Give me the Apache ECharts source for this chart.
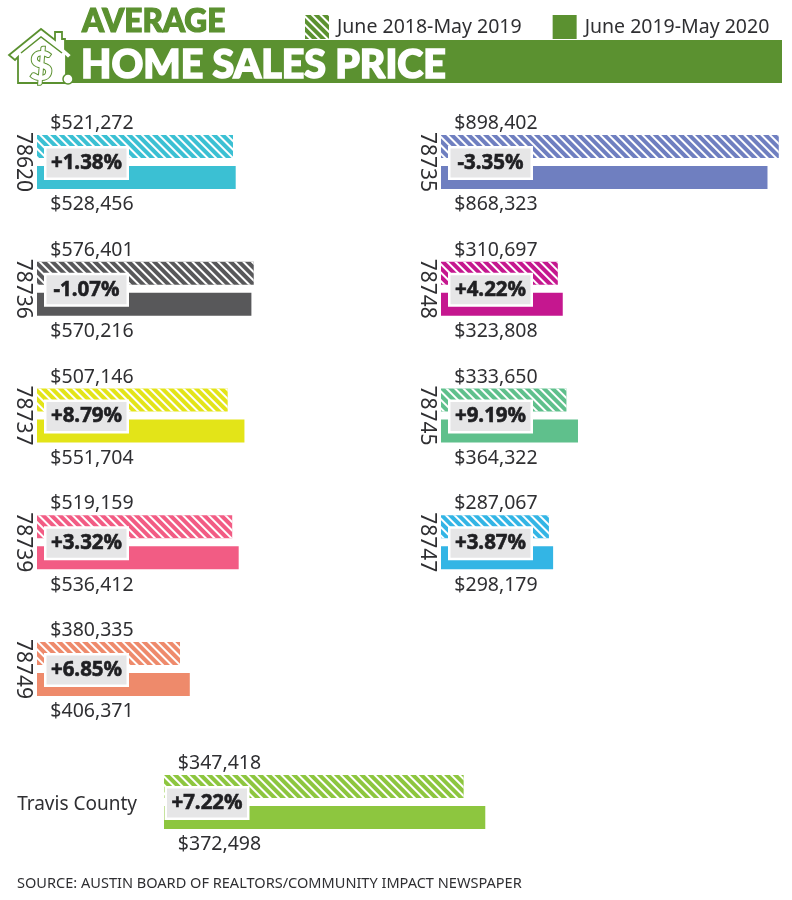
<!DOCTYPE html>
<html>
<head>
<meta charset="utf-8">
<style>html,body{margin:0;padding:0;background:#fff}#c{width:792px;height:900px}</style>
<script src="https://cdn.jsdelivr.net/npm/echarts@6/dist/echarts.min.js"></script>
</head>
<body>
<div id="c"></div>
<script>
const zips = ['78620','78736','78737','78739','78749','78735','78748','78745','78747','Travis County'];
const prior = [521272,576401,507146,519159,380335,898402,310697,333650,287067,347418];
const current = [528456,570216,551704,536412,406371,868323,323808,364322,298179,372498];
const changes = ['+1.38%','-1.07%','+8.79%','+3.32%','+6.85%','-3.35%','+4.22%','+9.19%','+3.87%','+7.22%'];
const colors = ['#3bc0d3','#58585a','#e3e418','#f25c84','#ee8a6b','#6f7fc0','#c5178f','#5fc08c','#33b5e5','#8dc63f'];
const periods = ['June 2018-May 2019','June 2019-May 2020'];

const GREEN = '#5b9130', INK = '#2f2f32';
const FONT = '"Noto Sans"';
const ROWS = [135,261.75,388.5,515.25,642];
const layout = zips.map((z,i)=>{
  if(i===9) return {left:164,top:775,width:345,max:400000,lab:55.5,badge:43};
  return {left:i<5?37:441,top:ROWS[i<5?i:i-5],width:338.4,max:900000,lab:55,badge:49.5};
});
const hatch = c => ({color:c, decal:{symbol:'rect',dashArrayX:[1,0],dashArrayY:[1.7,3.7],rotation:Math.PI/4,color:'#fff',symbolSize:1}});

const grid=[],xAxis=[],yAxis=[],series=[];
zips.forEach((z,i)=>{
  const L=layout[i];
  grid.push({left:L.left,top:L.top,width:L.width,height:54});
  xAxis.push({type:'value',gridIndex:i,min:0,max:L.max,show:false});
  yAxis.push({type:'category',gridIndex:i,data:[z],inverse:true,
    axisLine:{show:false},axisTick:{show:false},
    axisLabel: i===9
      ? {margin:27,formatter:v=>'{a|'+v+'}',rich:{a:{fontFamily:FONT,fontSize:19,color:INK,padding:[6,0,0,0]}}}
      : {fontFamily:FONT,fontSize:21,color:INK,rotate:-90,margin:4}});
  const lab=(dy)=>({show:true,position:[L.lab,dy],align:'center',verticalAlign:'middle',
    fontFamily:FONT,fontSize:19.5,color:INK,formatter:p=>'$'+p.value.toLocaleString('en-US')});
  series.push({type:'bar',name:periods[0],xAxisIndex:i,yAxisIndex:i,data:[prior[i]],barWidth:23,barGap:'34%',
    itemStyle:hatch(colors[i]),label:lab(-11.5),silent:true});
  series.push({type:'bar',name:periods[1],xAxisIndex:i,yAxisIndex:i,data:[current[i]],barWidth:23,barGap:'34%',
    itemStyle:{color:colors[i]},label:lab(39),silent:true});
  series.push({type:'scatter',name:'Change',xAxisIndex:i,yAxisIndex:i,data:[[0,0]],symbolSize:1,z:6,silent:true,
    itemStyle:{color:'transparent',opacity:1},
    label:{show:true,opacity:1,position:'inside',offset:[L.badge,1],formatter:()=>changes[i],
      fontFamily:FONT,fontWeight:700,fontSize:20.5,color:'#1f1f22',textBorderColor:'#1f1f22',textBorderWidth:0.6,
      align:'center',verticalAlign:'middle',
      backgroundColor:'#e6e6e7',borderColor:'#fff',borderWidth:2.5,width:80,height:29,lineHeight:29}});
});

const option={
  animation:false,backgroundColor:'#fff',
  title:[
    {text:'AVERAGE',left:77,top:1,textStyle:{fontFamily:'Lato',fontWeight:900,fontSize:31.5,color:GREEN,textBorderColor:GREEN,textBorderWidth:1.2}},
    {text:'HOME SALES PRICE',left:76,top:41,textStyle:{fontFamily:'Lato',fontWeight:900,fontSize:39.3,color:'#fff',textBorderColor:'#fff',textBorderWidth:1.6},z:8},
    {text:'SOURCE: AUSTIN BOARD OF REALTORS/COMMUNITY IMPACT NEWSPAPER',left:12,top:871,textStyle:{fontFamily:FONT,fontWeight:400,fontSize:14.55,color:INK}}
  ],
  legend:{left:300,top:10,itemWidth:24,itemHeight:24,itemGap:31,selectedMode:false,icon:'rect',
    textStyle:{fontFamily:FONT,fontSize:19.5,color:INK,padding:[0,0,4,3]},
    data:[{name:periods[0],itemStyle:hatch(GREEN)},{name:periods[1],itemStyle:{color:GREEN}}]},
  graphic:[
    {type:'rect',z:1,shape:{x:62,y:40,width:720,height:43},style:{fill:GREEN}},
    {type:'polygon',z:2,shape:{points:[[41,29],[9,55],[15,60],[18,57],[18,83],[66,83],[66,57],[68,59],[72,55],[65,49],[65,39],[62,39],[62,32],[55,32],[55,40]]},
      style:{fill:'#fff',stroke:GREEN,lineWidth:1.8}},
    {type:'polyline',z:3,shape:{points:[[21,53],[41,37],[62,53]]},style:{fill:'none',stroke:GREEN,lineWidth:1.5}},
    {type:'text',z:4,x:41,y:67,style:{text:'$',font:'900 40px Lato',fill:'#fff',stroke:GREEN,lineWidth:2,align:'center',verticalAlign:'middle'}},
    {type:'circle',z:4,shape:{cx:68,cy:79,r:5},style:{fill:'#fff',stroke:GREEN,lineWidth:1.5}}
  ],
  grid,xAxis,yAxis,series
};
echarts.init(document.getElementById('c'),null,{renderer:'canvas'}).setOption(option);
</script>
</body>
</html>
